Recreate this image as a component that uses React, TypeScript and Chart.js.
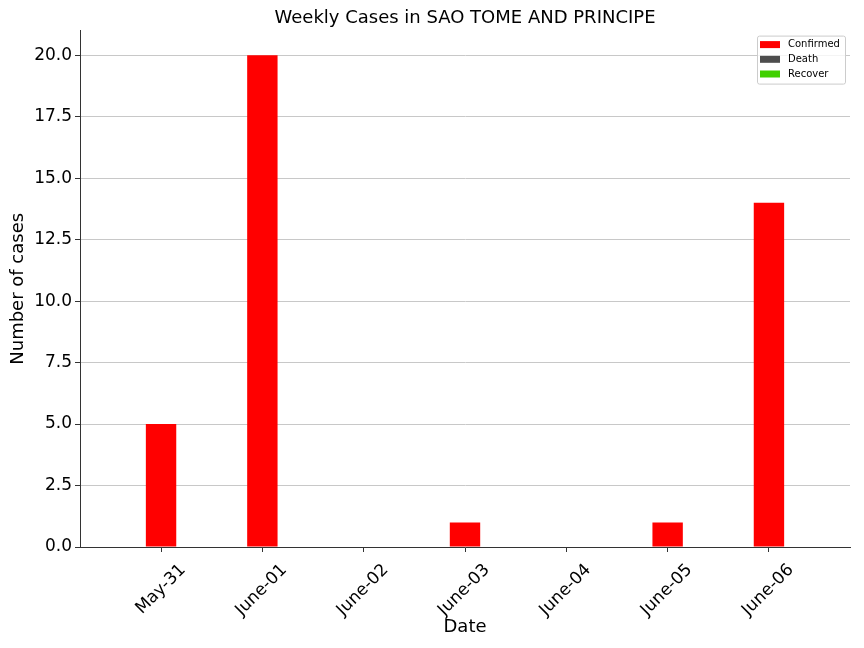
import React, { useEffect, useRef } from "react";
import { Chart, registerables } from "chart.js";

Chart.register(...registerables);

const dates = ["May-31", "June-01", "June-02", "June-03", "June-04", "June-05", "June-06"];
const confirmed = [5, 20, 0, 1, 0, 1, 14];
const deaths = [0, 0, 0, 0, 0, 0, 0];
const recovered = [0, 0, 0, 0, 0, 0, 0];
const yTicks = [0, 2.5, 5, 7.5, 10, 12.5, 15, 17.5, 20];

const FONT = "'DejaVu Sans', sans-serif";
const AXIS = "#333333";

// matplotlib-style legend inside the plot, upper right
const insideLegend = {
  id: "insideLegend",
  afterDraw(chart: any) {
    const { ctx, chartArea } = chart;
    const sets = chart.data.datasets;
    const w = 88;
    const h = 48;
    const x = chartArea.right - 5 - w;
    const y = chartArea.top + 5;
    ctx.save();
    ctx.fillStyle = "rgba(255,255,255,0.8)";
    ctx.strokeStyle = "#cccccc";
    ctx.lineWidth = 1;
    ctx.beginPath();
    ctx.roundRect(x + 0.5, y + 0.5, w, h, 2);
    ctx.fill();
    ctx.stroke();
    ctx.font = `10px ${FONT}`;
    ctx.textBaseline = "middle";
    ctx.textAlign = "left";
    sets.forEach((ds: any, i: number) => {
      const cy = y + 9 + i * 14.7;
      ctx.fillStyle = ds.backgroundColor;
      ctx.fillRect(x + 3, cy - 3.5, 20, 7);
      ctx.fillStyle = "#000";
      ctx.fillText(ds.label, x + 31, cy);
    });
    ctx.restore();
  },
};

export default function App() {
  const canvasRef = useRef<HTMLCanvasElement>(null);

  useEffect(() => {
    document.body.style.margin = "0";
    if (!canvasRef.current) return;
    const toPoints = (arr: number[]) => arr.map((v, i) => ({ x: i, y: v }));
    const chart = new Chart(canvasRef.current, {
      type: "bar",
      data: {
        datasets: [
          { label: "Confirmed", data: toPoints(confirmed), backgroundColor: "#ff0000" },
          { label: "Death", data: toPoints(deaths), backgroundColor: "#4d4d4d" },
          { label: "Recover", data: toPoints(recovered), backgroundColor: "#40d000" },
        ],
      },
      options: {
        responsive: true,
        maintainAspectRatio: false,
        animation: false,
        layout: { padding: { left: 0, right: 14, top: 0, bottom: 0 } },
        datasets: {
          bar: { grouped: false, barPercentage: 0.3, categoryPercentage: 1, borderWidth: 0 },
        },
        plugins: {
          legend: { display: false },
          tooltip: { enabled: false },
          title: {
            display: true,
            fullSize: false,
            text: "Weekly Cases in SAO TOME AND PRINCIPE",
            color: "#000",
            font: { family: FONT, size: 18, weight: "normal" },
            padding: { top: 8, bottom: 1 },
          },
        },
        scales: {
          x: {
            type: "linear",
            offset: false,
            min: -0.8,
            max: 6.8,
            afterBuildTicks: (axis: any) => {
              axis.ticks = dates.map((_, i) => ({ value: i }));
            },
            afterFit: (axis: any) => {
              axis.height = 101;
            },
            ticks: {
              callback: (v: any) => dates[v] ?? "",
              color: "#000",
              font: { family: FONT, size: 17 },
              minRotation: 45,
              maxRotation: 45,
              labelOffset: 22,
              padding: 8,
            },
            grid: {
              offset: false,
              drawOnChartArea: false,
              drawTicks: true,
              tickLength: 5,
              tickColor: AXIS,
            },
            border: { color: AXIS, width: 1 },
            title: {
              display: true,
              text: "Date",
              color: "#000",
              font: { family: FONT, size: 18 },
              padding: { top: 0, bottom: 10 },
            },
          },
          y: {
            min: 0,
            max: 21,
            z: 1,
            afterBuildTicks: (axis: any) => {
              axis.ticks = yTicks.map((v) => ({ value: v }));
            },
            afterFit: (axis: any) => {
              axis.width = 80;
            },
            ticks: {
              callback: (v: any) => Number(v).toFixed(1),
              color: "#000",
              font: { family: FONT, size: 17 },
              padding: 3,
            },
            grid: {
              color: "#c8c8c8",
              tickColor: AXIS,
              tickLength: 5,
            },
            border: { color: AXIS, width: 1 },
            title: {
              display: true,
              text: "Number of cases",
              color: "#000",
              font: { family: FONT, size: 18 },
              padding: { top: 8, bottom: 0 },
            },
          },
        },
      },
      plugins: [insideLegend],
    } as any);
    return () => chart.destroy();
  }, []);

  return (
    <div style={{ width: 864, height: 648, position: "relative" }}>
      <canvas ref={canvasRef} />
    </div>
  );
}
